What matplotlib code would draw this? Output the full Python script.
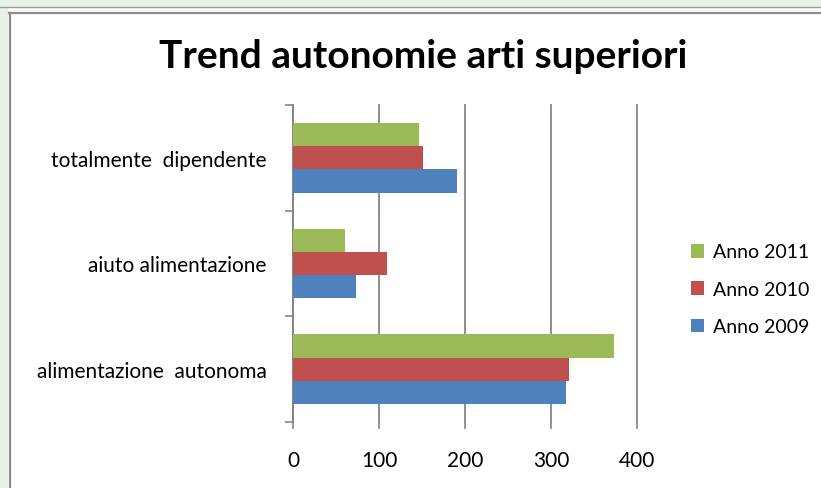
import matplotlib
matplotlib.use("Agg")
import matplotlib.pyplot as plt
from matplotlib.patches import Rectangle, Patch
from matplotlib.lines import Line2D
import numpy as np

categories = ["alimentazione  autonoma", "aiuto alimentazione", "totalmente  dipendente"]
series_names = ["Anno 2009", "Anno 2010", "Anno 2011"]
values_2009 = [317, 73, 191]
values_2010 = [321, 109, 151]
values_2011 = [373, 61, 147]
colors = ["#4F81BD", "#C0504D", "#9BBB59"]
xticks = [0, 100, 200, 300, 400]

plt.rcParams['font.family'] = ['Lato', 'DejaVu Sans']

W, H = 821, 489
fig = plt.figure(figsize=(W/100, H/100), dpi=100)
fig.patch.set_facecolor("white")

# frame decoration
fig.patches.append(Rectangle((0, 1-8/H), 1, 8/H, transform=fig.transFigure, facecolor="#e9efe9", edgecolor="none", zorder=0))
fig.patches.append(Rectangle((0, 0), 8/W, 1, transform=fig.transFigure, facecolor="#e9efe9", edgecolor="none", zorder=0))
fig.lines.append(Line2D([0, 1], [1-8/H, 1-8/H], transform=fig.transFigure, color="#a0a0a0", lw=1.0))
fig.lines.append(Line2D([9/W, 1], [1-14/H, 1-14/H], transform=fig.transFigure, color="#8c8c8c", lw=1.6))
fig.lines.append(Line2D([9.5/W, 9.5/W], [0, 1-14/H], transform=fig.transFigure, color="#8c8c8c", lw=1.6))

ax = fig.add_axes([293/W, 1-423/H, (637-293)/W, (423-106)/H])
y = np.arange(len(categories))
h = 0.22
for i, (vals, c, name) in enumerate(zip([values_2009, values_2010, values_2011], colors, series_names)):
    ax.barh(y + (i-1)*h, vals, height=h, color=c, label=name, zorder=3, edgecolor="none")

ax.set_xlim(0, 400)
ax.set_ylim(-0.5, 2.5)
ax.set_xticks(xticks)
ax.set_xticklabels([str(t) for t in xticks], fontsize=15)
ax.set_yticks(y)
ax.set_yticklabels(categories, fontsize=15)
ax.set_yticks([-0.5, 0.5, 1.5, 2.5], minor=True)
ax.tick_params(axis='y', which='major', length=0, pad=19)
ax.tick_params(axis='y', which='minor', length=6, color="#868686", width=1.2)
ax.tick_params(axis='x', which='major', length=5, color="#868686", width=1.2, pad=15)
ax.grid(axis='x', color="#868686", lw=1.3, zorder=0)
for gl in ax.get_xgridlines():
    gl.set_clip_on(False)
for s in ["top", "right", "bottom"]:
    ax.spines[s].set_visible(False)
ax.spines["left"].set_color("#868686")
ax.spines["left"].set_linewidth(1.2)
ax.set_axisbelow(True)

handles = [Patch(facecolor=c) for c in colors][::-1]
labels = series_names[::-1]
fig.legend(handles, labels, loc="upper left", bbox_to_anchor=(673/W, 1-227/H), frameon=False,
           fontsize=14, handlelength=0.7, handleheight=0.7, handletextpad=0.45, labelspacing=1.05,
           borderaxespad=0.5)

fig.text(423/W, 1-56/H, "Trend autonomie arti superiori", ha="center", va="center", fontsize=28, fontweight="bold")

fig.savefig("out.png", dpi=100)
